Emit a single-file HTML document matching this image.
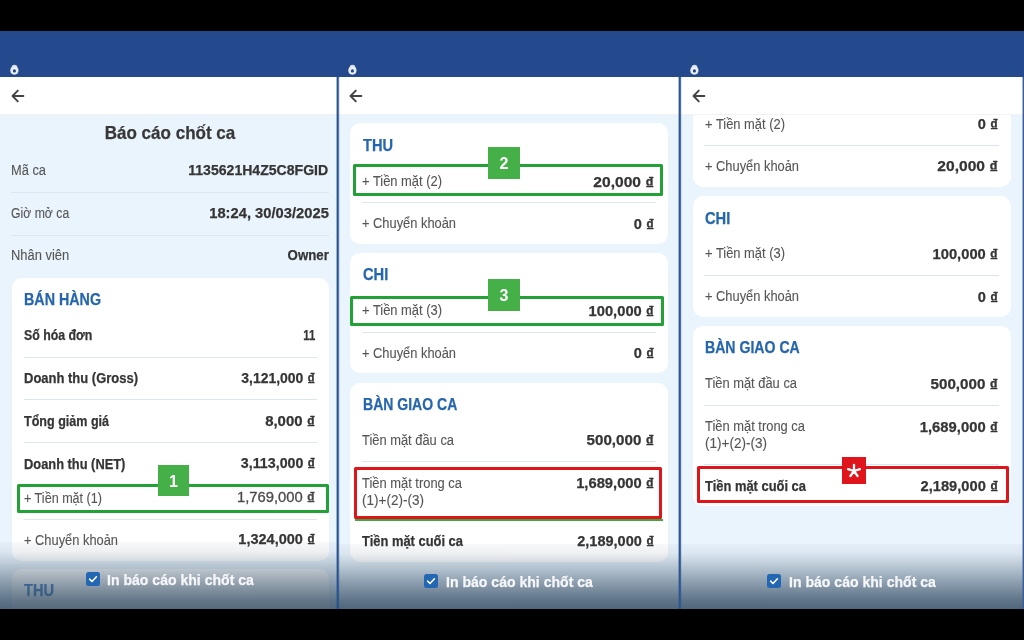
<!DOCTYPE html>
<html><head><meta charset="utf-8"><style>
html,body{margin:0;padding:0;}
body{width:1024px;height:640px;position:relative;overflow:hidden;background:#000;font-family:"Liberation Sans", sans-serif;}
.t{position:absolute;white-space:nowrap;line-height:1;}
.dg{font-size:1.1em;vertical-align:-0.1em;font-weight:700;-webkit-text-stroke:0.3px currentColor;}
#wrap{position:absolute;left:0;top:0;width:1024px;height:640px;filter:blur(0.3px);}
</style></head><body><div id="wrap">
<div style="position:absolute;left:0px;top:115px;width:1024.00px;height:494.00px;background:#eaf4fd;"></div>
<div class="t" style="top:124.62px;font-size:17.7px;font-weight:700;-webkit-text-stroke:0.25px #383838;color:#383838;left:170.3px;transform:translateX(-50%) scaleX(0.9627);">Báo cáo chốt ca</div>
<div class="t" style="top:163.45px;font-size:14px;-webkit-text-stroke:0.1px #555555;color:#555555;left:11.4px;transform:scaleX(0.9180);transform-origin:0 0;">Mã ca</div>
<div class="t" style="top:163.11px;font-size:14.4px;font-weight:700;-webkit-text-stroke:0.25px #353535;color:#353535;right:695.40px;transform:scaleX(0.9776);transform-origin:100% 0;">1135621H4Z5C8FGID</div>
<div class="t" style="top:205.95px;font-size:14px;-webkit-text-stroke:0.1px #555555;color:#555555;left:11.4px;transform:scaleX(0.8740);transform-origin:0 0;">Giờ mở ca</div>
<div class="t" style="top:205.61px;font-size:14.4px;font-weight:700;-webkit-text-stroke:0.25px #353535;color:#353535;right:695.40px;transform:scaleX(1.0237);transform-origin:100% 0;">18:24, 30/03/2025</div>
<div class="t" style="top:248.45px;font-size:14px;-webkit-text-stroke:0.1px #555555;color:#555555;left:11.4px;transform:scaleX(0.9231);transform-origin:0 0;">Nhân viên</div>
<div class="t" style="top:248.11px;font-size:14.4px;font-weight:700;-webkit-text-stroke:0.25px #353535;color:#353535;right:695.40px;transform:scaleX(0.9200);transform-origin:100% 0;">Owner</div>
<div style="position:absolute;left:11px;top:192px;width:318.00px;height:1.00px;background:#dce6f0;"></div>
<div style="position:absolute;left:11px;top:234.5px;width:318.00px;height:1.00px;background:#dce6f0;"></div>
<div style="position:absolute;left:12px;top:277.7px;width:317.00px;height:283.30px;background:#fff;border-radius:10px;"></div>
<div class="t" style="top:291.20px;font-size:16.3px;font-weight:700;-webkit-text-stroke:0.25px #2566ad;color:#2566ad;left:24px;transform:scaleX(0.8776);transform-origin:0 0;">BÁN HÀNG</div>
<div class="t" style="top:328.45px;font-size:14px;font-weight:700;-webkit-text-stroke:0.25px #353535;color:#353535;left:24px;transform:scaleX(0.8812);transform-origin:0 0;">Số hóa đơn</div>
<div class="t" style="top:328.11px;font-size:14.4px;font-weight:700;-webkit-text-stroke:0.25px #353535;color:#353535;right:708.40px;transform:scaleX(0.7885);transform-origin:100% 0;">11</div>
<div class="t" style="top:371.25px;font-size:14px;font-weight:700;-webkit-text-stroke:0.25px #353535;color:#353535;left:24px;transform:scaleX(0.9277);transform-origin:0 0;">Doanh thu (Gross)</div>
<div class="t" style="top:370.91px;font-size:14.4px;font-weight:700;-webkit-text-stroke:0.25px #353535;color:#353535;right:708.40px;transform:scaleX(0.9704);transform-origin:100% 0;">3,121,000 <span class="dg">₫</span></div>
<div class="t" style="top:414.05px;font-size:14px;font-weight:700;-webkit-text-stroke:0.25px #353535;color:#353535;left:24px;transform:scaleX(0.8958);transform-origin:0 0;">Tổng giảm giá</div>
<div class="t" style="top:413.71px;font-size:14.4px;font-weight:700;-webkit-text-stroke:0.25px #353535;color:#353535;right:708.40px;transform:scaleX(1.0386);transform-origin:100% 0;">8,000 <span class="dg">₫</span></div>
<div class="t" style="top:456.55px;font-size:14px;font-weight:700;-webkit-text-stroke:0.25px #353535;color:#353535;left:24px;transform:scaleX(0.9183);transform-origin:0 0;">Doanh thu (NET)</div>
<div class="t" style="top:456.21px;font-size:14.4px;font-weight:700;-webkit-text-stroke:0.25px #353535;color:#353535;right:708.40px;transform:scaleX(0.9886);transform-origin:100% 0;">3,113,000 <span class="dg">₫</span></div>
<div class="t" style="top:490.55px;font-size:14px;-webkit-text-stroke:0.1px #555555;color:#555555;left:24px;transform:scaleX(0.8990);transform-origin:0 0;">+ Tiền mặt (1)</div>
<div class="t" style="top:490.21px;font-size:14.4px;-webkit-text-stroke:0.1px #4a4a4a;color:#4a4a4a;-webkit-text-stroke:0.3px #4a4a4a;right:708.40px;transform:scaleX(1.0268);transform-origin:100% 0;">1,769,000 <span class="dg">₫</span></div>
<div class="t" style="top:532.55px;font-size:14px;-webkit-text-stroke:0.1px #555555;color:#555555;left:24px;transform:scaleX(0.9183);transform-origin:0 0;">+ Chuyển khoản</div>
<div class="t" style="top:532.21px;font-size:14.4px;font-weight:700;-webkit-text-stroke:0.25px #353535;color:#353535;right:708.40px;transform:scaleX(1.0085);transform-origin:100% 0;">1,324,000 <span class="dg">₫</span></div>
<div style="position:absolute;left:24px;top:356.5px;width:292.60px;height:1.00px;background:#dce6f0;"></div>
<div style="position:absolute;left:24px;top:399px;width:292.60px;height:1.00px;background:#dce6f0;"></div>
<div style="position:absolute;left:24px;top:442px;width:292.60px;height:1.00px;background:#dce6f0;"></div>
<div style="position:absolute;left:24px;top:518.5px;width:292.60px;height:1.00px;background:#dce6f0;"></div>
<div style="position:absolute;left:12px;top:568.8px;width:317.00px;height:71.20px;background:#fff;border-radius:10px;"></div>
<div class="t" style="top:582.20px;font-size:16.3px;font-weight:700;-webkit-text-stroke:0.25px #4f8ac6;color:#4f8ac6;left:24.4px;transform:scaleX(0.8964);transform-origin:0 0;">THU</div>
<div style="position:absolute;left:350px;top:122.7px;width:317.50px;height:121.40px;background:#fff;border-radius:10px;"></div>
<div class="t" style="top:136.60px;font-size:16.3px;font-weight:700;-webkit-text-stroke:0.25px #2566ad;color:#2566ad;left:362.7px;transform:scaleX(0.8964);transform-origin:0 0;">THU</div>
<div class="t" style="top:173.85px;font-size:14px;-webkit-text-stroke:0.1px #555555;color:#555555;left:362.4px;transform:scaleX(0.9220);transform-origin:0 0;">+ Tiền mặt (2)</div>
<div class="t" style="top:174.51px;font-size:14.4px;font-weight:700;-webkit-text-stroke:0.25px #353535;color:#353535;right:369.40px;transform:scaleX(1.0830);transform-origin:100% 0;">20,000 <span class="dg">₫</span></div>
<div style="position:absolute;left:362px;top:202px;width:294.00px;height:1.00px;background:#dce6f0;"></div>
<div class="t" style="top:215.85px;font-size:14px;-webkit-text-stroke:0.1px #555555;color:#555555;left:362.4px;transform:scaleX(0.9183);transform-origin:0 0;">+ Chuyển khoản</div>
<div class="t" style="top:216.51px;font-size:14.4px;font-weight:700;-webkit-text-stroke:0.25px #353535;color:#353535;right:369.40px;transform:scaleX(1.0129);transform-origin:100% 0;">0 <span class="dg">₫</span></div>
<div style="position:absolute;left:350px;top:252.7px;width:317.50px;height:120.80px;background:#fff;border-radius:10px;"></div>
<div class="t" style="top:265.90px;font-size:16.3px;font-weight:700;-webkit-text-stroke:0.25px #2566ad;color:#2566ad;left:362.7px;transform:scaleX(0.9021);transform-origin:0 0;">CHI</div>
<div class="t" style="top:303.15px;font-size:14px;-webkit-text-stroke:0.1px #555555;color:#555555;left:362.4px;transform:scaleX(0.9220);transform-origin:0 0;">+ Tiền mặt (3)</div>
<div class="t" style="top:303.81px;font-size:14.4px;font-weight:700;-webkit-text-stroke:0.25px #353535;color:#353535;right:369.40px;transform:scaleX(1.0225);transform-origin:100% 0;">100,000 <span class="dg">₫</span></div>
<div style="position:absolute;left:362px;top:332px;width:294.00px;height:1.00px;background:#dce6f0;"></div>
<div class="t" style="top:345.75px;font-size:14px;-webkit-text-stroke:0.1px #555555;color:#555555;left:362.4px;transform:scaleX(0.9183);transform-origin:0 0;">+ Chuyển khoản</div>
<div class="t" style="top:346.41px;font-size:14.4px;font-weight:700;-webkit-text-stroke:0.25px #353535;color:#353535;right:369.40px;transform:scaleX(1.0129);transform-origin:100% 0;">0 <span class="dg">₫</span></div>
<div style="position:absolute;left:350px;top:382.8px;width:317.50px;height:179.50px;background:#fff;border-radius:10px;"></div>
<div class="t" style="top:395.60px;font-size:16.3px;font-weight:700;-webkit-text-stroke:0.25px #2566ad;color:#2566ad;left:362.7px;transform:scaleX(0.8616);transform-origin:0 0;">BÀN GIAO CA</div>
<div class="t" style="top:432.65px;font-size:14px;-webkit-text-stroke:0.1px #555555;color:#555555;left:362.4px;transform:scaleX(0.9212);transform-origin:0 0;">Tiền mặt đầu ca</div>
<div class="t" style="top:433.31px;font-size:14.4px;font-weight:700;-webkit-text-stroke:0.25px #353535;color:#353535;right:369.40px;transform:scaleX(1.0537);transform-origin:100% 0;">500,000 <span class="dg">₫</span></div>
<div style="position:absolute;left:362px;top:461px;width:294.00px;height:1.00px;background:#dce6f0;"></div>
<div class="t" style="top:475.75px;font-size:14px;-webkit-text-stroke:0.1px #555555;color:#555555;left:362.4px;transform:scaleX(0.9223);transform-origin:0 0;">Tiền mặt trong ca</div>
<div class="t" style="top:492.55px;font-size:14px;-webkit-text-stroke:0.1px #555555;color:#555555;left:362.4px;transform:scaleX(0.9662);transform-origin:0 0;">(1)+(2)-(3)</div>
<div class="t" style="top:476.41px;font-size:14.4px;font-weight:700;-webkit-text-stroke:0.25px #353535;color:#353535;right:369.40px;transform:scaleX(1.0242);transform-origin:100% 0;">1,689,000 <span class="dg">₫</span></div>
<div class="t" style="top:533.65px;font-size:14px;font-weight:700;-webkit-text-stroke:0.25px #353535;color:#353535;left:362.4px;transform:scaleX(0.9228);transform-origin:0 0;">Tiền mặt cuối ca</div>
<div class="t" style="top:534.31px;font-size:14.4px;font-weight:700;-webkit-text-stroke:0.25px #353535;color:#353535;right:369.40px;transform:scaleX(1.0111);transform-origin:100% 0;">2,189,000 <span class="dg">₫</span></div>
<div style="position:absolute;left:692.5px;top:100px;width:318.20px;height:87.00px;background:#fff;border-radius:10px;"></div>
<div class="t" style="top:116.75px;font-size:14px;-webkit-text-stroke:0.1px #555555;color:#555555;left:704.7px;transform:scaleX(0.9220);transform-origin:0 0;">+ Tiền mặt (2)</div>
<div class="t" style="top:117.41px;font-size:14.4px;font-weight:700;-webkit-text-stroke:0.25px #353535;color:#353535;right:26.00px;transform:scaleX(1.0129);transform-origin:100% 0;">0 <span class="dg">₫</span></div>
<div style="position:absolute;left:704px;top:144.5px;width:295.00px;height:1.00px;background:#dce6f0;"></div>
<div class="t" style="top:158.75px;font-size:14px;-webkit-text-stroke:0.1px #555555;color:#555555;left:704.7px;transform:scaleX(0.9183);transform-origin:0 0;">+ Chuyển khoản</div>
<div class="t" style="top:159.41px;font-size:14.4px;font-weight:700;-webkit-text-stroke:0.25px #353535;color:#353535;right:26.00px;transform:scaleX(1.0830);transform-origin:100% 0;">20,000 <span class="dg">₫</span></div>
<div style="position:absolute;left:692.5px;top:196.3px;width:318.20px;height:121.00px;background:#fff;border-radius:10px;"></div>
<div class="t" style="top:209.60px;font-size:16.3px;font-weight:700;-webkit-text-stroke:0.25px #2566ad;color:#2566ad;left:704.7px;transform:scaleX(0.9021);transform-origin:0 0;">CHI</div>
<div class="t" style="top:246.15px;font-size:14px;-webkit-text-stroke:0.1px #555555;color:#555555;left:704.7px;transform:scaleX(0.9220);transform-origin:0 0;">+ Tiền mặt (3)</div>
<div class="t" style="top:246.81px;font-size:14.4px;font-weight:700;-webkit-text-stroke:0.25px #353535;color:#353535;right:26.00px;transform:scaleX(1.0225);transform-origin:100% 0;">100,000 <span class="dg">₫</span></div>
<div style="position:absolute;left:704px;top:275px;width:295.00px;height:1.00px;background:#dce6f0;"></div>
<div class="t" style="top:289.15px;font-size:14px;-webkit-text-stroke:0.1px #555555;color:#555555;left:704.7px;transform:scaleX(0.9183);transform-origin:0 0;">+ Chuyển khoản</div>
<div class="t" style="top:289.81px;font-size:14.4px;font-weight:700;-webkit-text-stroke:0.25px #353535;color:#353535;right:26.00px;transform:scaleX(1.0129);transform-origin:100% 0;">0 <span class="dg">₫</span></div>
<div style="position:absolute;left:692.5px;top:325.8px;width:318.20px;height:180.20px;background:#fff;border-radius:10px;"></div>
<div class="t" style="top:339.30px;font-size:16.3px;font-weight:700;-webkit-text-stroke:0.25px #2566ad;color:#2566ad;left:704.7px;transform:scaleX(0.8661);transform-origin:0 0;">BÀN GIAO CA</div>
<div class="t" style="top:376.35px;font-size:14px;-webkit-text-stroke:0.1px #555555;color:#555555;left:704.7px;transform:scaleX(0.9212);transform-origin:0 0;">Tiền mặt đầu ca</div>
<div class="t" style="top:377.01px;font-size:14.4px;font-weight:700;-webkit-text-stroke:0.25px #353535;color:#353535;right:26.00px;transform:scaleX(1.0537);transform-origin:100% 0;">500,000 <span class="dg">₫</span></div>
<div style="position:absolute;left:704px;top:405px;width:295.00px;height:1.00px;background:#dce6f0;"></div>
<div class="t" style="top:419.35px;font-size:14px;-webkit-text-stroke:0.1px #555555;color:#555555;left:704.7px;transform:scaleX(0.9223);transform-origin:0 0;">Tiền mặt trong ca</div>
<div class="t" style="top:435.65px;font-size:14px;-webkit-text-stroke:0.1px #555555;color:#555555;left:704.7px;transform:scaleX(0.9662);transform-origin:0 0;">(1)+(2)-(3)</div>
<div class="t" style="top:420.01px;font-size:14.4px;font-weight:700;-webkit-text-stroke:0.25px #353535;color:#353535;right:26.00px;transform:scaleX(1.0295);transform-origin:100% 0;">1,689,000 <span class="dg">₫</span></div>
<div style="position:absolute;left:704px;top:463.5px;width:295.00px;height:1.00px;background:#dce6f0;"></div>
<div class="t" style="top:478.55px;font-size:14px;font-weight:700;-webkit-text-stroke:0.25px #353535;color:#353535;left:704.7px;transform:scaleX(0.9228);transform-origin:0 0;">Tiền mặt cuối ca</div>
<div class="t" style="top:479.21px;font-size:14.4px;font-weight:700;-webkit-text-stroke:0.25px #353535;color:#353535;right:26.00px;transform:scaleX(1.0190);transform-origin:100% 0;">2,189,000 <span class="dg">₫</span></div>
<div style="position:absolute;left:0px;top:541.5px;width:338.00px;height:67.50px;background:linear-gradient(to bottom, rgba(42,68,92,0.035) 0%, rgba(42,68,92,0.08) 14%, rgba(42,68,92,0.19) 27%, rgba(42,68,92,0.46) 56%, rgba(42,68,92,0.72) 86%, rgba(42,68,92,0.80) 100%);"></div>
<div style="position:absolute;left:338px;top:543.5px;width:342.00px;height:65.50px;background:linear-gradient(to bottom, rgba(42,68,92,0.035) 0%, rgba(42,68,92,0.08) 14%, rgba(42,68,92,0.19) 27%, rgba(42,68,92,0.46) 56%, rgba(42,68,92,0.72) 86%, rgba(42,68,92,0.80) 100%);"></div>
<div style="position:absolute;left:680px;top:543.5px;width:344.00px;height:65.50px;background:linear-gradient(to bottom, rgba(42,68,92,0.035) 0%, rgba(42,68,92,0.08) 14%, rgba(42,68,92,0.19) 27%, rgba(42,68,92,0.46) 56%, rgba(42,68,92,0.72) 86%, rgba(42,68,92,0.80) 100%);"></div>
<div style="position:absolute;left:17.3px;top:483.8px;width:305.40px;height:23.30px;border:3px solid #22a236;border-radius:1.5px;"></div>
<div style="position:absolute;left:158px;top:465px;width:31px;height:31px;background:#44b047;color:#fff;font-weight:700;font-size:16px;line-height:33.6px;text-align:center;">1</div>
<div style="position:absolute;left:353.1px;top:164.4px;width:304.30px;height:26.10px;border:3px solid #22a236;border-radius:1.5px;"></div>
<div style="position:absolute;left:488px;top:147.4px;width:32px;height:31.599999999999994px;background:#44b047;color:#fff;font-weight:700;font-size:16px;line-height:34.2px;text-align:center;">2</div>
<div style="position:absolute;left:350px;top:295.7px;width:307.90px;height:24.50px;border:3px solid #22a236;border-radius:1.5px;"></div>
<div style="position:absolute;left:488px;top:279.2px;width:32px;height:31.400000000000034px;background:#44b047;color:#fff;font-weight:700;font-size:16px;line-height:34.0px;text-align:center;">3</div>
<div style="position:absolute;left:354.8px;top:519.3px;width:307.90px;height:1.70px;background:#3aa845;"></div>
<div style="position:absolute;left:354px;top:467.1px;width:302.40px;height:45.70px;border:3.4px solid #e0141b;border-radius:1.5px;"></div>
<div style="position:absolute;left:697.3px;top:465.7px;width:305.50px;height:31.20px;border:3px solid #e0141b;border-radius:1.5px;"></div>
<div style="position:absolute;left:842px;top:457px;width:24px;height:27px;background:#e0141b;color:#fff;font-weight:700;font-size:16px;line-height:29.6px;text-align:center;"></div>
<svg style="position:absolute;left:846px;top:463px" width="16" height="16" viewBox="-8 -8 16 16"><path d="M0 0 L0 -6.2 M0 0 L5.9 -1.9 M0 0 L3.6 5.0 M0 0 L-3.6 5.0 M0 0 L-5.9 -1.9" stroke="#fff" stroke-width="2.3" stroke-linecap="round"/></svg>
<svg style="position:absolute;left:85.7px;top:572.1px" width="14" height="14" viewBox="0 0 14 14"><rect x="0" y="0" width="14" height="14" rx="2.5" fill="#2367b3"/><path d="M3.6 7.2 L6 9.5 L10.4 4.8" fill="none" stroke="#fff" stroke-width="1.6" stroke-linecap="round" stroke-linejoin="round"/></svg>
<div class="t" style="top:571.53px;font-size:15.2px;font-weight:700;-webkit-text-stroke:0.25px #f6f7f9;color:#f6f7f9;left:107.1px;transform:scaleX(0.9258);transform-origin:0 0;">In báo cáo khi chốt ca</div>
<svg style="position:absolute;left:424px;top:574px" width="14" height="14" viewBox="0 0 14 14"><rect x="0" y="0" width="14" height="14" rx="2.5" fill="#2367b3"/><path d="M3.6 7.2 L6 9.5 L10.4 4.8" fill="none" stroke="#fff" stroke-width="1.6" stroke-linecap="round" stroke-linejoin="round"/></svg>
<div class="t" style="top:573.53px;font-size:15.2px;font-weight:700;-webkit-text-stroke:0.25px #f6f7f9;color:#f6f7f9;left:445.5px;transform:scaleX(0.9258);transform-origin:0 0;">In báo cáo khi chốt ca</div>
<svg style="position:absolute;left:767px;top:574px" width="14" height="14" viewBox="0 0 14 14"><rect x="0" y="0" width="14" height="14" rx="2.5" fill="#2367b3"/><path d="M3.6 7.2 L6 9.5 L10.4 4.8" fill="none" stroke="#fff" stroke-width="1.6" stroke-linecap="round" stroke-linejoin="round"/></svg>
<div class="t" style="top:573.53px;font-size:15.2px;font-weight:700;-webkit-text-stroke:0.25px #f6f7f9;color:#f6f7f9;left:788.5px;transform:scaleX(0.9258);transform-origin:0 0;">In báo cáo khi chốt ca</div>
<div style="position:absolute;left:0px;top:77px;width:1024.00px;height:38.00px;background:#fff;"></div>
<div style="position:absolute;left:0px;top:114px;width:1024.00px;height:1.00px;background:#f1f2f3;"></div>
<div style="position:absolute;left:0px;top:31px;width:1024.00px;height:46.00px;background:#244a8d;"></div>
<div style="position:absolute;left:0px;top:0px;width:1024.00px;height:31.00px;background:#000;"></div>
<div style="position:absolute;left:0px;top:609px;width:1024.00px;height:31.00px;background:#000;"></div>
<div style="position:absolute;left:336px;top:77px;width:1.00px;height:532.00px;background:#26528f;opacity:0.4;"></div>
<div style="position:absolute;left:337px;top:77px;width:1.00px;height:532.00px;background:#26528f;opacity:1;"></div>
<div style="position:absolute;left:338px;top:77px;width:1.00px;height:532.00px;background:#26528f;opacity:0.75;"></div>
<div style="position:absolute;left:339px;top:77px;width:1.00px;height:532.00px;background:#26528f;opacity:0.15;"></div>
<div style="position:absolute;left:678px;top:77px;width:1.00px;height:532.00px;background:#2c5692;opacity:0.4;"></div>
<div style="position:absolute;left:679px;top:77px;width:1.00px;height:532.00px;background:#2c5692;opacity:1;"></div>
<div style="position:absolute;left:680px;top:77px;width:1.00px;height:532.00px;background:#2c5692;opacity:0.85;"></div>
<div style="position:absolute;left:681px;top:77px;width:1.00px;height:532.00px;background:#2c5692;opacity:0.15;"></div>
<div style="position:absolute;left:1022px;top:77px;width:1.00px;height:532.00px;background:#3a5d9a;opacity:0.45;"></div>
<div style="position:absolute;left:1023px;top:77px;width:1.00px;height:532.00px;background:#3a5d9a;opacity:1;"></div>
<svg style="position:absolute;left:9.6px;top:63.6px" width="9" height="11" viewBox="0 0 9 11"><path d="M1.6 4.6 V3.6 A2.9 2.9 0 0 1 7.4 3.6 V4.6 Z" fill="#d6deea"/><circle cx="4.4" cy="6.6" r="4.1" fill="#e8edf4"/><circle cx="4.4" cy="6.9" r="1.6" fill="#244a8d"/></svg>
<svg style="position:absolute;left:347.9px;top:63.6px" width="9" height="11" viewBox="0 0 9 11"><path d="M1.6 4.6 V3.6 A2.9 2.9 0 0 1 7.4 3.6 V4.6 Z" fill="#d6deea"/><circle cx="4.4" cy="6.6" r="4.1" fill="#e8edf4"/><circle cx="4.4" cy="6.9" r="1.6" fill="#244a8d"/></svg>
<svg style="position:absolute;left:690.3px;top:63.6px" width="9" height="11" viewBox="0 0 9 11"><path d="M1.6 4.6 V3.6 A2.9 2.9 0 0 1 7.4 3.6 V4.6 Z" fill="#d6deea"/><circle cx="4.4" cy="6.6" r="4.1" fill="#e8edf4"/><circle cx="4.4" cy="6.9" r="1.6" fill="#244a8d"/></svg>
<svg style="position:absolute;left:10.5px;top:89.3px" width="14" height="14" viewBox="0 0 14 14"><path d="M12.4 7 H1.8 M6.8 1.6 L1.5 7 L6.8 12.4" fill="none" stroke="#444" stroke-width="1.9" stroke-linecap="round" stroke-linejoin="round"/></svg>
<svg style="position:absolute;left:348.5px;top:89.3px" width="14" height="14" viewBox="0 0 14 14"><path d="M12.4 7 H1.8 M6.8 1.6 L1.5 7 L6.8 12.4" fill="none" stroke="#444" stroke-width="1.9" stroke-linecap="round" stroke-linejoin="round"/></svg>
<svg style="position:absolute;left:691.5px;top:89.3px" width="14" height="14" viewBox="0 0 14 14"><path d="M12.4 7 H1.8 M6.8 1.6 L1.5 7 L6.8 12.4" fill="none" stroke="#444" stroke-width="1.9" stroke-linecap="round" stroke-linejoin="round"/></svg>
</div></body></html>
